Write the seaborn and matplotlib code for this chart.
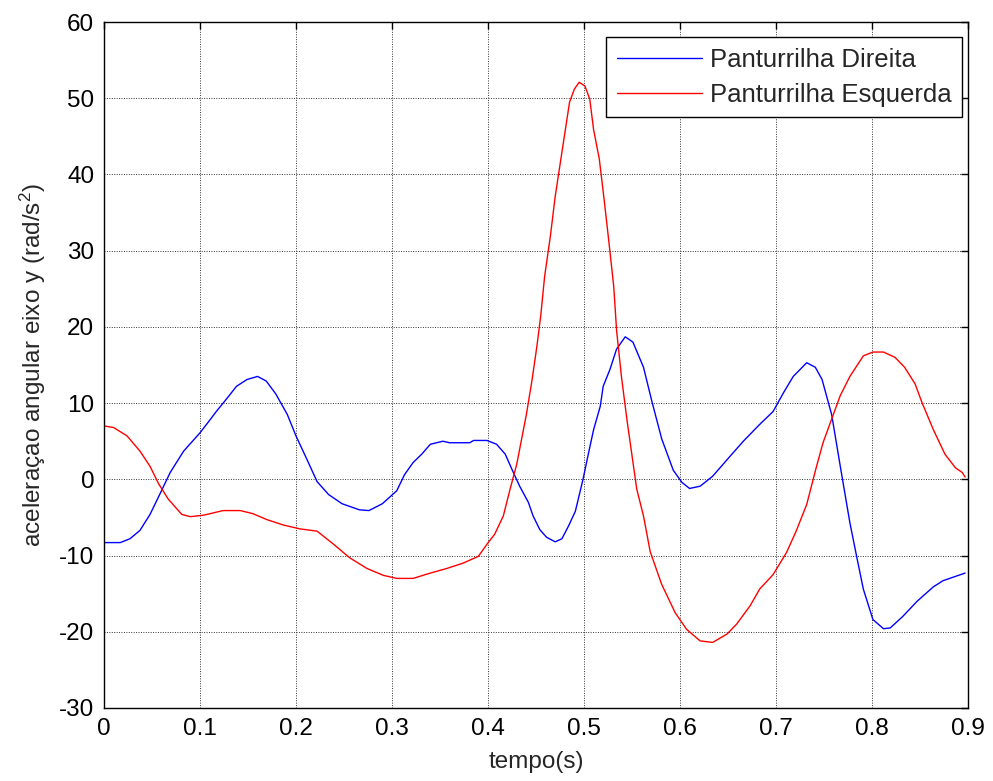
import matplotlib
matplotlib.use("Agg")
import matplotlib.pyplot as plt
import seaborn as sns
import pandas as pd

# ---- data ----
t_direita = [0.0, 0.017, 0.027, 0.0375, 0.048, 0.058, 0.069, 0.083, 0.1, 0.108, 0.117, 0.128, 0.138, 0.149,
             0.16, 0.169, 0.179, 0.191, 0.2, 0.21, 0.222, 0.234, 0.248, 0.266, 0.276, 0.29, 0.305, 0.313,
             0.322, 0.331, 0.34, 0.353, 0.36, 0.381, 0.385, 0.399, 0.409, 0.418, 0.425, 0.433, 0.442, 0.447,
             0.454, 0.461, 0.47, 0.477, 0.484, 0.491, 0.499, 0.504, 0.51, 0.517, 0.52, 0.527, 0.534, 0.543,
             0.551, 0.562, 0.571, 0.581, 0.593, 0.602, 0.61, 0.621, 0.634, 0.652, 0.666, 0.683, 0.697,
             0.708, 0.718, 0.732, 0.741, 0.748, 0.758, 0.767, 0.777, 0.784, 0.791, 0.801, 0.812, 0.819,
             0.832, 0.847, 0.864, 0.874, 0.897]
v_direita = [-8.3, -8.3, -7.8, -6.7, -4.6, -2.0, 0.9, 3.7, 6.1, 7.4, 8.9, 10.6, 12.2, 13.1,
             13.5, 12.9, 11.2, 8.5, 5.7, 3.0, -0.3, -2.0, -3.2, -4.0, -4.1, -3.2, -1.5, 0.6,
             2.2, 3.3, 4.6, 5.0, 4.8, 4.8, 5.1, 5.1, 4.6, 3.3, 1.3, -0.9, -3.0, -4.8,
             -6.6, -7.6, -8.2, -7.8, -6.1, -4.2, 0.0, 3.0, 6.5, 9.6, 12.2, 14.4, 17.1, 18.7,
             18.0, 14.7, 10.1, 5.3, 1.2, -0.4, -1.2, -0.9, 0.4, 3.0, 5.0, 7.2, 8.9,
             11.4, 13.5, 15.3, 14.7, 13.1, 8.5, 1.7, -5.7, -10.1, -14.4, -18.4, -19.6, -19.5,
             -18.0, -16.0, -14.1, -13.3, -12.3]

t_esquerda = [0.0, 0.01, 0.024, 0.0375, 0.048, 0.057, 0.067, 0.081, 0.09, 0.104, 0.124, 0.142, 0.155,
              0.17, 0.187, 0.204, 0.222, 0.239, 0.256, 0.274, 0.291, 0.305, 0.322, 0.34, 0.357, 0.374,
              0.39, 0.399, 0.407, 0.416, 0.423, 0.43, 0.44, 0.446, 0.451, 0.455, 0.459, 0.465, 0.47,
              0.477, 0.485, 0.49, 0.495, 0.501, 0.506, 0.51, 0.516, 0.521, 0.526, 0.531, 0.534, 0.539,
              0.545, 0.555, 0.562, 0.569, 0.581, 0.595, 0.607, 0.621, 0.634, 0.649, 0.659, 0.673,
              0.683, 0.697, 0.711, 0.721, 0.732, 0.741, 0.749, 0.758, 0.767, 0.777, 0.791, 0.801,
              0.812, 0.824, 0.834, 0.845, 0.852, 0.864, 0.876, 0.887, 0.894, 0.897]
v_esquerda = [7.0, 6.8, 5.7, 3.7, 1.7, -0.6, -2.6, -4.6, -4.9, -4.7, -4.1, -4.1, -4.5,
              -5.3, -6.0, -6.5, -6.8, -8.5, -10.3, -11.7, -12.6, -13.0, -13.0, -12.3, -11.7, -11.0,
              -10.1, -8.5, -7.2, -4.8, -1.3, 2.0, 8.5, 13.1, 17.5, 21.5, 26.6, 31.9, 37.1,
              42.9, 49.5, 51.2, 52.1, 51.6, 49.9, 45.9, 42.0, 36.7, 31.1, 25.3, 19.5, 13.5,
              7.6, -1.3, -4.8, -9.5, -13.8, -17.5, -19.7, -21.2, -21.4, -20.3, -19.0, -16.6,
              -14.4, -12.5, -9.6, -6.8, -3.3, 1.1, 4.8, 7.9, 11.0, 13.5, 16.2, 16.7,
              16.7, 16.0, 14.7, 12.5, 10.1, 6.5, 3.3, 1.5, 0.9, 0.3]

series_names = ["Panturrilha Direita", "Panturrilha Esquerda"]
x_ticks = [0, 0.1, 0.2, 0.3, 0.4, 0.5, 0.6, 0.7, 0.8, 0.9]
x_ticklabels = ["0", "0.1", "0.2", "0.3", "0.4", "0.5", "0.6", "0.7", "0.8", "0.9"]
y_ticks = [-30, -20, -10, 0, 10, 20, 30, 40, 50, 60]

df = pd.concat([
    pd.DataFrame({"t": t_direita, "v": v_direita, "serie": series_names[0]}),
    pd.DataFrame({"t": t_esquerda, "v": v_esquerda, "serie": series_names[1]}),
], ignore_index=True)

sns.set_style("white")
plt.rcParams["font.family"] = ["Liberation Sans", "DejaVu Sans"]
plt.rcParams["mathtext.fontset"] = "custom"
plt.rcParams["mathtext.rm"] = "Liberation Sans"
plt.rcParams["mathtext.it"] = "Liberation Sans"
plt.rcParams["axes.unicode_minus"] = False

fig = plt.figure(figsize=(9.93, 7.81), dpi=100)
ax = fig.add_axes([0.1047, 0.0935, 0.8701, 0.8783])

sns.lineplot(data=df, x="t", y="v", hue="serie", hue_order=series_names,
             palette=["#0000ff", "#ff0000"], linewidth=1.0, ax=ax, sort=False,
             estimator=None)

ax.set_xlim(0, 0.9)
ax.set_ylim(-30, 60)
ax.set_xticks(x_ticks)
ax.set_xticklabels(x_ticklabels)
ax.set_yticks(y_ticks)
ax.tick_params(direction="in", top=True, right=True, length=5, width=1,
               labelsize=17.5, colors="black", pad=7)
ax.grid(True, color="#333333", linestyle=(0, (1, 1.5)), linewidth=0.7)
for s in ax.spines.values():
    s.set_color("black")
    s.set_linewidth(1.0)

ax.set_xlabel("tempo(s)", fontsize=17.5, labelpad=8)
ax.set_ylabel(r"aceleraçao angular eixo y (rad/s$^2$)", fontsize=17.5, labelpad=8)

leg = ax.legend(loc="upper right", bbox_to_anchor=(0.993, 0.978), borderaxespad=0,
                fontsize=18.5, frameon=True, fancybox=False, framealpha=1, edgecolor="black",
                handlelength=3.3, handletextpad=0.3, borderpad=0.42, labelspacing=0.42)
leg.get_frame().set_linewidth(1.0)

fig.savefig("out.png", dpi=100)
